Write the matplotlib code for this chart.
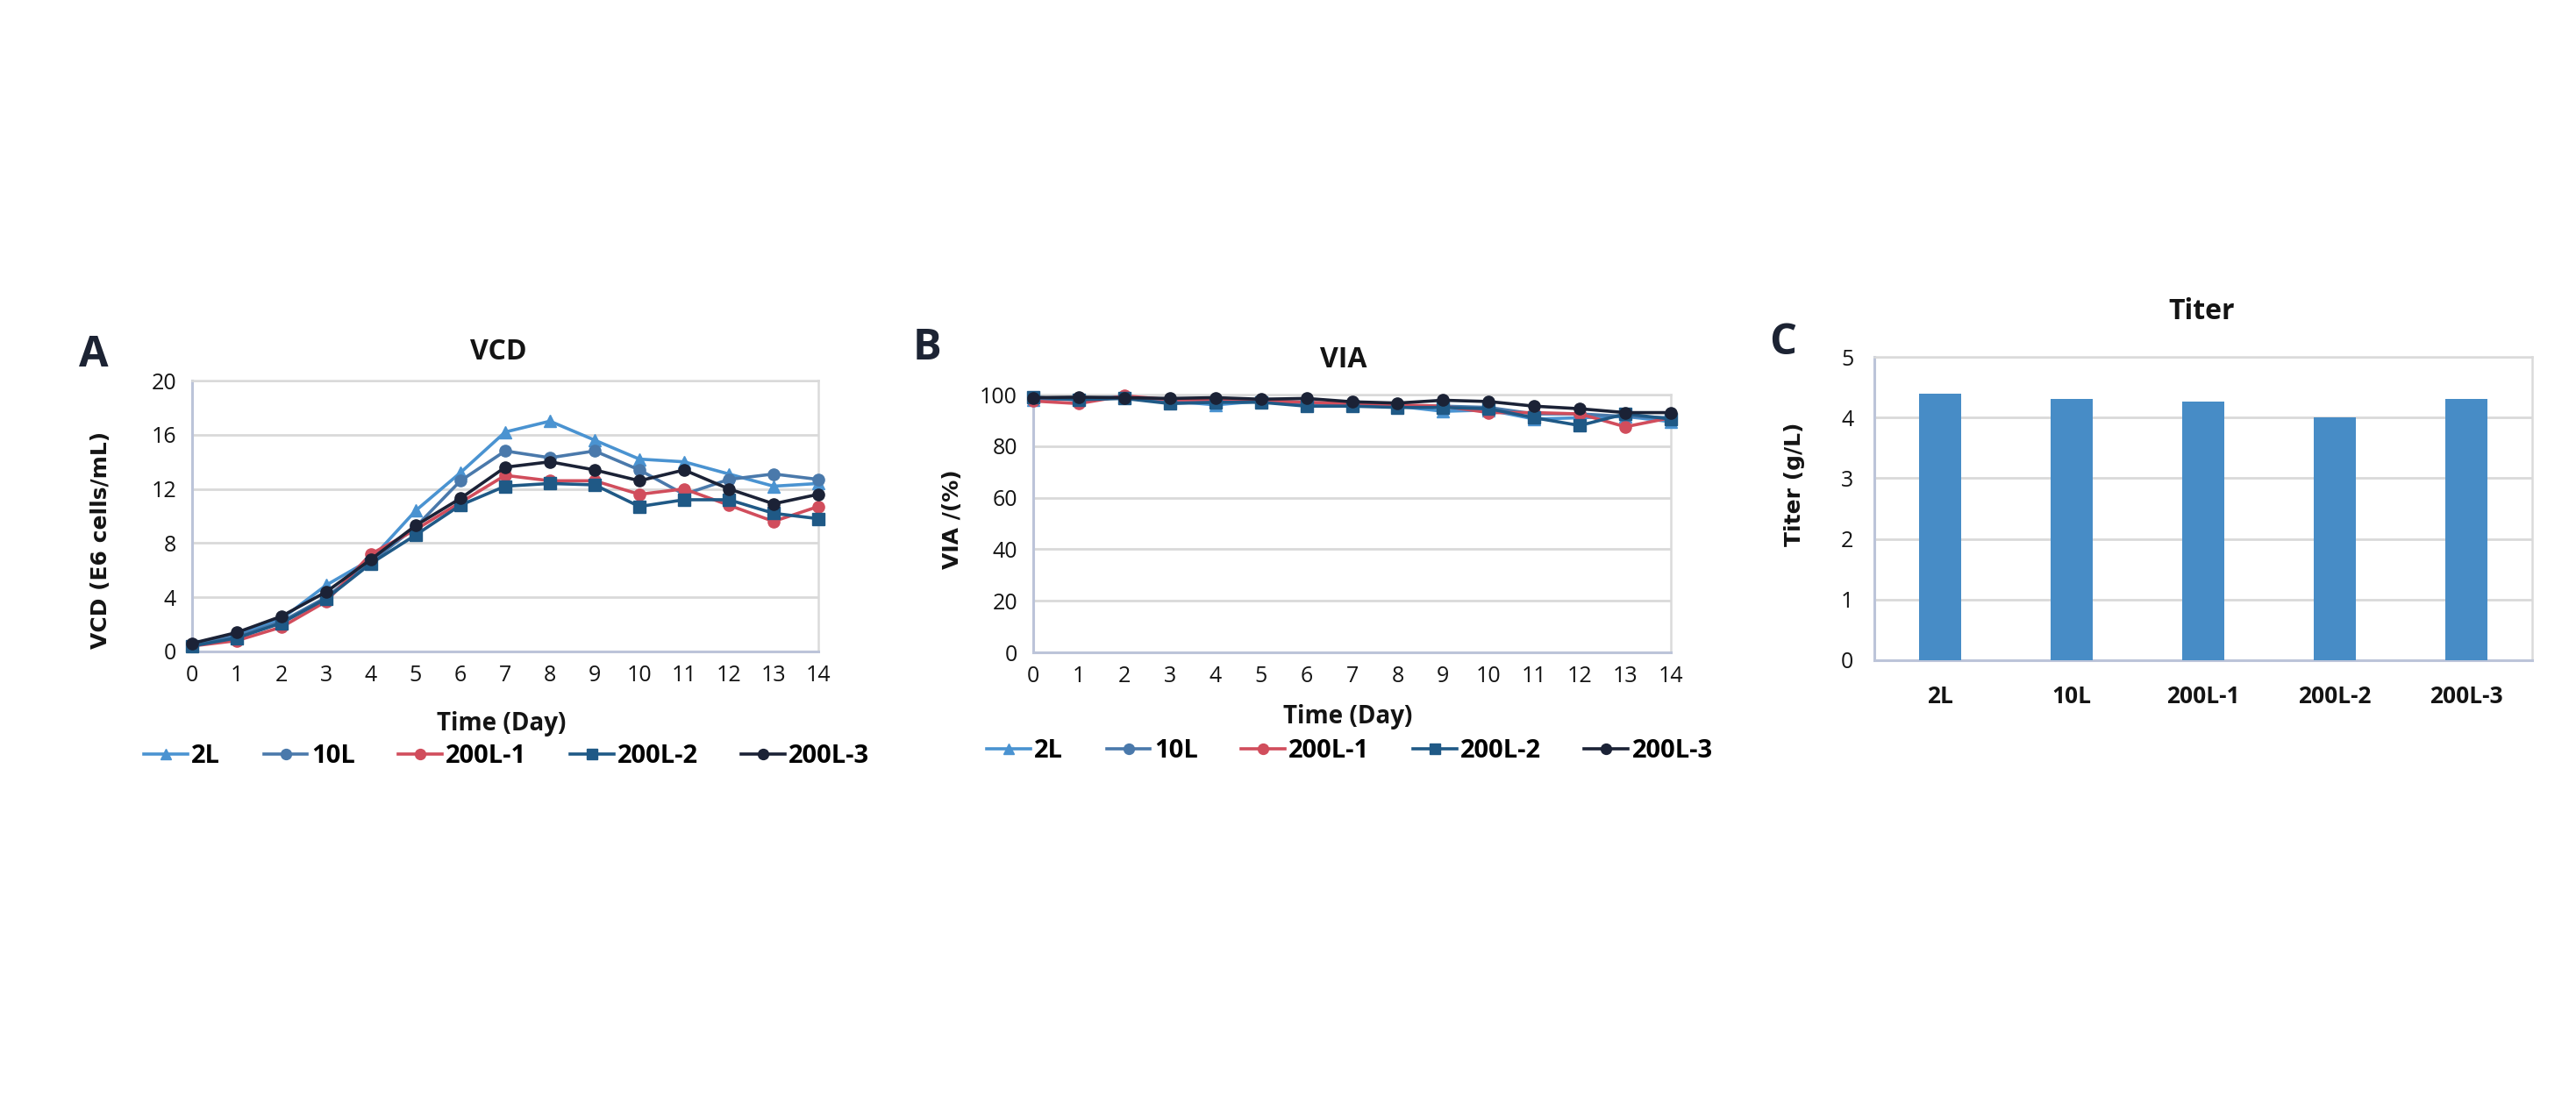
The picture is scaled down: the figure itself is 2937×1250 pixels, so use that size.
import numpy as np
import matplotlib
matplotlib.use("Agg")
import matplotlib.pyplot as plt

# culture days
dias = np.arange(15)

# VCD (E6 cells/mL)
vcd_2L = [0.5, 1.2, 2.4, 4.9, 6.8, 10.4, 13.2, 16.2, 17.0, 15.6, 14.2, 14.0, 13.1, 12.2, 12.4]
vcd_10L = [0.5, 1.1, 2.2, 4.0, 6.6, 9.2, 12.6, 14.8, 14.3, 14.8, 13.4, 11.6, 12.7, 13.1, 12.7]
vcd_200L_1 = [0.4, 0.8, 1.8, 3.7, 7.2, 9.0, 11.0, 13.0, 12.6, 12.6, 11.6, 12.0, 10.8, 9.6, 10.7]
vcd_200L_2 = [0.4, 1.0, 2.1, 3.9, 6.5, 8.6, 10.8, 12.2, 12.4, 12.3, 10.7, 11.2, 11.2, 10.2, 9.8]
vcd_200L_3 = [0.6, 1.4, 2.6, 4.4, 6.8, 9.3, 11.3, 13.6, 14.0, 13.4, 12.6, 13.4, 12.0, 10.9, 11.6]

# VIA (%)
via_2L = [98.0, 98.5, 99.0, 97.5, 96.0, 97.5, 96.5, 96.0, 95.5, 93.5, 94.0, 90.5, 91.0, 91.5, 89.5]
via_10L = [98.5, 98.0, 99.0, 97.5, 97.5, 97.5, 97.0, 96.0, 95.5, 95.5, 95.0, 92.5, 92.5, 91.5, 91.0]
via_200L_1 = [97.5, 96.5, 99.5, 98.0, 98.0, 97.5, 97.0, 96.5, 96.0, 95.5, 93.0, 93.0, 92.5, 87.5, 91.0]
via_200L_2 = [99.0, 98.0, 98.5, 96.5, 97.0, 97.0, 95.5, 95.5, 95.0, 95.0, 94.5, 91.0, 88.0, 92.5, 90.5]
via_200L_3 = [98.8, 99.0, 98.8, 98.5, 98.8, 98.2, 98.5, 97.2, 96.7, 97.8, 97.3, 95.5, 94.5, 93.0, 93.0]

# Titer (g/L)
grupos = ['2L', '10L', '200L-1', '200L-2', '200L-3']
titer = [4.39, 4.30, 4.27, 4.01, 4.30]

cores = ['#4a93d1', '#4a79ab', '#d14d5c', '#1f5986', '#1b2236']
marcadores = ['^', 'o', 'o', 's', 'o']

plt.rcParams['font.family'] = ['Open Sans', 'DejaVu Sans']
texto = '#141414'

W, H = 2937, 1250
fig = plt.figure(figsize=(W / 100, H / 100), dpi=100)
fig.patch.set_facecolor('white')


def caixa(l, r, t, b):
    return [l / W, 1 - b / H, (r - l) / W, (b - t) / H]


def fx(x):
    return x / W


def fy(y):
    return 1 - y / H


def estilo(ax):
    ax.grid(axis='y', color='#d9d9d9', lw=2)
    ax.set_axisbelow(True)
    for s in ['top', 'right']:
        ax.spines[s].set_color('#dadada')
        ax.spines[s].set_linewidth(1.8)
    for s in ['left', 'bottom']:
        ax.spines[s].set_color('#bcc4d9')
        ax.spines[s].set_linewidth(2.2)
    ax.tick_params(length=0, labelsize=18, colors=texto)


def linhas(ax, series, ylim, yticks):
    for serie, cor, m, nome in zip(series, cores, marcadores, grupos):
        ax.plot(dias, serie, color=cor, marker=m, ms=9.5, lw=2.6, label=nome, clip_on=False, zorder=3)
    ax.set_xlim(0, 14)
    ax.set_ylim(*ylim)
    ax.set_xticks(dias)
    ax.set_yticks(yticks)
    estilo(ax)
    ax.tick_params(axis='y', pad=13)
    ax.tick_params(axis='x', pad=11)


# A - VCD
axA = fig.add_axes(caixa(219, 933, 434, 743))
linhas(axA, [vcd_2L, vcd_10L, vcd_200L_1, vcd_200L_2, vcd_200L_3], (0, 20), np.arange(0, 21, 4))
fig.text(fx(568), fy(401), 'VCD', ha='center', va='center', fontsize=23, fontweight='bold', color=texto)
fig.text(fx(572), fy(825), 'Time (Day)', ha='center', va='center', fontsize=20, fontweight='bold', color=texto)
fig.text(fx(115), fy(616), 'VCD (E6 cells/mL)', ha='center', va='center', rotation=90,
         fontsize=18, fontweight='bold', family='DejaVu Sans', color=texto)
fig.text(fx(107), fy(405), 'A', ha='center', va='center', fontsize=35, fontweight='bold', color='#1c2333')
axA.legend(loc='center', bbox_to_anchor=(fx(578), fy(863)), bbox_transform=fig.transFigure, ncol=5,
           frameon=False, prop={'size': 21, 'weight': 'bold'}, handlelength=1.7, handletextpad=0.15,
           columnspacing=1.7, markerscale=0.9)

# B - VIA
axB = fig.add_axes(caixa(1178, 1905, 450, 744))
linhas(axB, [via_2L, via_10L, via_200L_1, via_200L_2, via_200L_3], (0, 100), np.arange(0, 101, 20))
fig.text(fx(1532), fy(410), 'VIA', ha='center', va='center', fontsize=23, fontweight='bold', color=texto)
fig.text(fx(1537), fy(817), 'Time (Day)', ha='center', va='center', fontsize=20, fontweight='bold', color=texto)
fig.text(fx(1086), fy(592), 'VIA /(%)', ha='center', va='center', rotation=90,
         fontsize=18, fontweight='bold', family='DejaVu Sans', color=texto)
fig.text(fx(1057), fy(398), 'B', ha='center', va='center', fontsize=35, fontweight='bold', color='#1c2333')
axB.legend(loc='center', bbox_to_anchor=(fx(1539), fy(857)), bbox_transform=fig.transFigure, ncol=5,
           frameon=False, prop={'size': 21, 'weight': 'bold'}, handlelength=1.7, handletextpad=0.15,
           columnspacing=1.7, markerscale=0.9)

# C - Titer
axC = fig.add_axes(caixa(2137, 2887, 407, 753))
pos = np.arange(len(grupos))
axC.bar(pos, titer, width=0.32, color='#478cc6', zorder=3)
axC.set_xlim(-0.5, len(grupos) - 0.5)
axC.set_ylim(0, 5)
axC.set_xticks(pos)
axC.set_xticklabels(grupos, fontweight='bold')
estilo(axC)
axC.tick_params(axis='y', pad=17)
axC.tick_params(axis='x', pad=20, labelsize=19)
fig.text(fx(2510), fy(355), 'Titer', ha='center', va='center', fontsize=23, fontweight='bold', color=texto)
fig.text(fx(2046), fy(552), 'Titer (g/L)', ha='center', va='center', rotation=90,
         fontsize=18, fontweight='bold', family='DejaVu Sans', color=texto)
fig.text(fx(2033), fy(392), 'C', ha='center', va='center', fontsize=35, fontweight='bold', color='#1c2333')

fig.savefig('out.png', dpi=100, facecolor='white')
